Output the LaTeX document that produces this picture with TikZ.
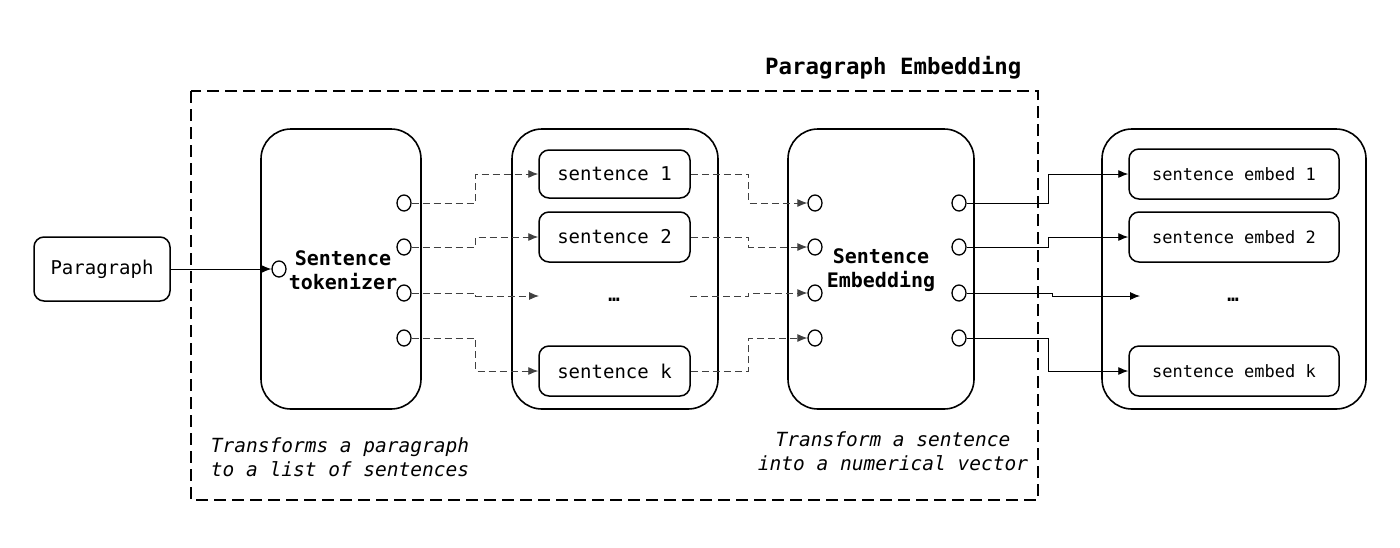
\documentclass[tikz,border=0pt]{standalone}
\usepackage{fontspec}
\setmonofont{DejaVu Sans Mono}
\usetikzlibrary{arrows.meta,shapes.geometric,calc}
\begin{document}
\begin{tikzpicture}[x=1pt,y=-1pt,
  bigbox/.style={draw,line width=1.6pt,rounded corners=30pt,minimum width=#1,minimum height=280pt,inner sep=0pt},
  smallbox/.style={draw,line width=1.5pt,rounded corners=10pt,minimum height=50pt,inner sep=0pt,font=\ttfamily\fontsize{19}{22}\selectfont},
  port/.style={draw,line width=1.3pt,ellipse,minimum width=14pt,minimum height=16pt,inner sep=0pt},
  dc/.style={draw=black!75,line width=0.9pt,dash pattern=on 7pt off 4pt,-{Latex[length=10pt,width=8pt]}},
  sc/.style={draw=black,line width=0.9pt,-{Latex[length=10pt,width=8pt]}},
  lbl/.style={font=\ttfamily\bfseries\fontsize{20}{24}\selectfont,align=center},
  dotstxt/.style={font=\ttfamily\bfseries\fontsize{19}{22}\selectfont},
  captxt/.style={font=\ttfamily\itshape\fontsize{19.5}{23.5}\selectfont,align=center}]
\useasboundingbox (0,0) rectangle (1400,547);
% frame
\draw[line width=1.8pt,dash pattern=on 12pt off 6pt] (191,91) rectangle (1038,500);
\node[font=\ttfamily\bfseries\fontsize{22.4}{26}\selectfont,anchor=east] (title) at (1025,68) {Paragraph Embedding};
% paragraph
\node[smallbox,minimum width=136pt,minimum height=64pt,font=\ttfamily\fontsize{19}{22}\selectfont] (par) at (102,269) {Paragraph};
% tokenizer
\node[bigbox=160pt] (tok) at (341,269) {};
\node[lbl] (toklbl) at (343,270) {Sentence\\tokenizer};
\node[port] (tin) at (279,269) {};
\foreach \i/\y in {1/203,2/247,3/293,4/338}{\node[port] (t\i) at (404,\y) {};}
% sentences
\node[bigbox=206pt] (sbox) at (615,269) {};
\node[smallbox,minimum width=151pt,minimum height=48pt] (s1) at (614.5,174) {sentence 1};
\node[smallbox,minimum width=151pt] (s2) at (614.5,237) {sentence 2};
\node[smallbox,minimum width=151pt] (sk) at (614.5,371) {sentence k};
\node[dotstxt] (sdots) at (614,300) {…};
\coordinate (sdl) at (539,296);
\coordinate (sdr) at (690,296);
% embedding
\node[bigbox=186pt] (emb) at (881,269) {};
\node[lbl] (emblbl) at (881,270) {Sentence\\Embedding};
\foreach \i/\y in {1/203,2/247,3/293,4/338}{
  \node[port] (el\i) at (815,\y) {};
  \node[port] (er\i) at (959,\y) {};}
% output
\node[bigbox=264pt] (obox) at (1234,269) {};
\node[smallbox,minimum width=210pt,font=\ttfamily\fontsize{17}{20}\selectfont] (o1) at (1234,174) {sentence embed 1};
\node[smallbox,minimum width=210pt,font=\ttfamily\fontsize{17}{20}\selectfont] (o2) at (1234,237) {sentence embed 2};
\node[smallbox,minimum width=210pt,font=\ttfamily\fontsize{17}{20}\selectfont] (ok) at (1234,371) {sentence embed k};
\node[dotstxt] (odots) at (1233,300) {…};
\coordinate (odl) at (1140,296);
% connectors
\draw[sc] (par.east) -- (tin.west);
\draw[dc] (t1.east) -- ++(64,0) |- (s1.west);
\draw[dc] (t2.east) -- ++(64,0) |- (s2.west);
\draw[dc] (t3.east) -- ++(64,0) |- (sdl);
\draw[dc] (t4.east) -- ++(64,0) |- (sk.west);
\draw[dc] (s1.east) -- ++(58,0) |- (el1.west);
\draw[dc] (s2.east) -- ++(58,0) |- (el2.west);
\draw[dc] (sdr) -- ++(58,0) |- (el3.west);
\draw[dc] (sk.east) -- ++(58,0) |- (el4.west);
\draw[sc] (er1.east) -- ++(82,0) |- (o1.west);
\draw[sc] (er2.east) -- ++(82,0) |- (o2.west);
\draw[sc] (er3.east) -- ++(86,0) |- (odl);
\draw[sc] (er4.east) -- ++(82,0) |- (ok.west);
% captions
\node[captxt] (cap1) at (340,457) {Transforms a paragraph\\to a list of sentences};
\node[captxt] (cap2) at (893,451) {Transform a sentence\\into a numerical vector};
\end{tikzpicture}
\end{document}
